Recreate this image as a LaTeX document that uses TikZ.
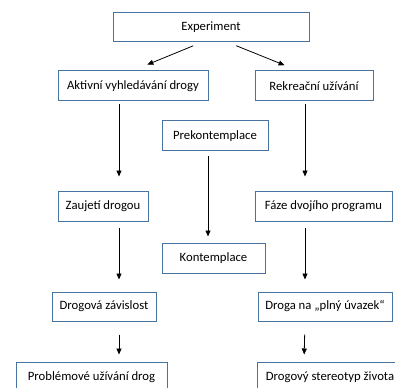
\documentclass[tikz,border=0pt]{standalone}
\usepackage{fontspec}
\setmainfont{Carlito}
\usetikzlibrary{arrows.meta}
\definecolor{boxblue}{RGB}{70,115,160}
\begin{document}
\begin{tikzpicture}[x=1pt,y=-1pt,
  box/.style={draw=boxblue,line width=1pt,fill=white,inner sep=0pt,font=\fontsize{12.7}{15}\selectfont},
  arr/.style={draw=black,line width=0.8pt,-{Triangle[length=6pt,width=5pt]}}]
\useasboundingbox (0,0) rectangle (395,387);
\clip (0,0) rectangle (395,387);
\node[box,minimum width=196pt,minimum height=29pt] (exp) at (211,27.5) {Experiment};
\node[box,minimum width=150pt,minimum height=30pt] (akt) at (133,86) {Aktivní vyhledávání drogy};
\node[box,minimum width=118pt,minimum height=30pt] (rek) at (314,86) {Rekreační užívání};
\node[box,minimum width=106pt,minimum height=30pt] (pre) at (215,136) {Prekontemplace};
\node[box,minimum width=90pt,minimum height=30pt] (zau) at (103,206) {Zaujetí drogou};
\node[box,minimum width=137pt,minimum height=30pt] (faz) at (323.5,206) {Fáze dvojího programu};
\node[box,minimum width=103pt,minimum height=30pt] (kon) at (213.5,258) {Kontemplace};
\node[box,minimum width=104pt,minimum height=29pt] (dro) at (104,306.5) {Drogová závislost};
\node[box,minimum width=134pt,minimum height=29pt] (drn) at (325,306.5) {Droga na „plný úvazek“};
\node[box,minimum width=151pt,minimum height=30pt] (pro) at (91.5,377) {Problémové užívání drog};
\node[box,minimum width=146pt,minimum height=30pt] (ste) at (330,377) {Drogový stereotyp života};
\coordinate (e1) at (202.5,42);
\coordinate (e2) at (227,42);
\coordinate (r1) at (299,71);
\draw[arr,shorten <=10pt,shorten >=15.5pt] (e1) -- (akt.north);
\draw[arr,shorten <=10pt,shorten >=15.5pt] (e2) -- (r1);
\draw[arr,shorten <=3pt,shorten >=14pt] ([xshift=-14pt]akt.south) -- ([xshift=16pt]zau.north);
\draw[arr,shorten <=3pt,shorten >=14pt] ([xshift=-9pt]rek.south) -- ([xshift=-18.5pt]faz.north);
\draw[arr,shorten <=5pt,shorten >=6pt] ([xshift=-7pt]pre.south) -- ([xshift=-5.5pt]kon.north);
\draw[arr,shorten <=6pt,shorten >=12pt] ([xshift=16pt]zau.south) -- ([xshift=15pt]dro.north);
\draw[arr,shorten <=6pt,shorten >=12pt] ([xshift=-18.5pt]faz.south) -- ([xshift=-20pt]drn.north);
\draw[arr,shorten <=13pt,shorten >=7pt] ([xshift=15pt]dro.south) -- ([xshift=27.5pt]pro.north);
\draw[arr,shorten <=13pt,shorten >=7pt] ([xshift=-20pt]drn.south) -- ([xshift=-26pt]ste.north);
\end{tikzpicture}
\end{document}
